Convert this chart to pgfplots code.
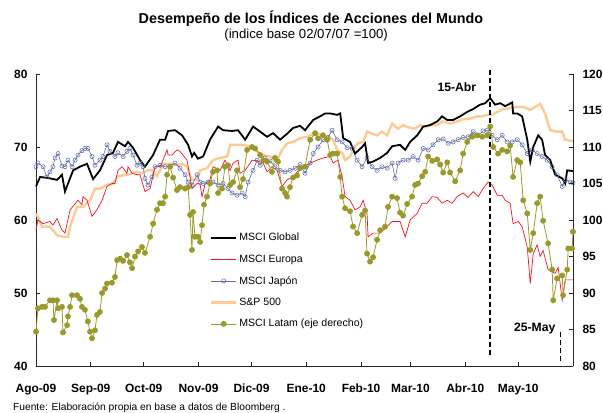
\documentclass[border=0pt]{standalone}
\usepackage{fontspec}
\setmainfont{Liberation Sans}
\usepackage{pgfplots}
\pgfplotsset{compat=1.18}
\definecolor{ceuropa}{HTML}{F5101E}
\definecolor{cjapon}{HTML}{5F6DAA}
\definecolor{csp}{HTML}{FCCB93}
\definecolor{clatam}{HTML}{9A9A2C}
\pgfplotsset{
  base/.style={
    scale only axis, width=537bp, height=292bp,
    xmin=0, xmax=304, clip=false,
    axis line style={-, line width=0.7pt, black!85},
    tick align=inside, major tick length=4bp,
    tick style={line width=0.6pt, black!85},
    tick label style={font=\bfseries\fontsize{12}{14}\selectfont},
    /pgf/number format/assume math mode=true,
  },
  sglobal/.style={black, line width=1.8pt},
  seuropa/.style={ceuropa, line width=0.7pt},
  sjapon/.style={cjapon, line width=0.6pt, mark=o, mark size=2.1bp, mark options={fill=white, line width=0.55pt}},
  ssp/.style={csp, line width=2.4pt},
  slatam/.style={clatam, line width=0.8pt, mark=*, mark size=2.5bp},
}

\begin{document}
\begin{tikzpicture}
\path[use as bounding box] (-36bp,-47bp) rectangle (567bp,366bp);

\begin{axis}[base,
  ymin=40, ymax=80, ytick={40,50,...,80},
  axis x line*=bottom, axis y line*=left,
  xtick={0,31,61,92,122,153,184,212,243,273,304},
  xticklabels={Ago-09,Sep-09,Oct-09,Nov-09,Dic-09,Ene-10,Feb-10,Mar-10,Abr-10,May-10,},
  x tick label style={yshift=-14.5bp},
  y tick label style={xshift=-5bp},
]
% S&P 500
\addplot[ssp] coordinates {
(0,60.9) (1.1,60.4) (3.4,59.1) (7.9,59.1) (9.6,58.6) (11.9,57.9) (15.3,57.7) (18.1,57.7)
(19.3,59.1) (23.2,61.8) (26.6,61.8) (30.6,62.7) (33.4,64.3) (36.2,64.3) (40.2,64.8) (43.6,65.0)
(46.4,66.0) (51.5,66.2) (54.4,66.4) (57.2,66.6) (60.0,66.4) (62.9,66.8) (65.7,66.8) (68.5,66.0)
(70.2,66.8) (71.9,67.7) (75.9,67.7) (79.8,67.5) (82.7,67.7) (85.5,67.3) (88.3,65.5) (91.2,65.5)
(92.9,66.8) (96.8,67.1) (100.2,68.2) (104.2,68.5) (108.2,68.7) (109.9,70.3) (113.8,70.3) (117.2,70.3)
(121.2,70.1) (125.2,69.4) (128.6,68.9) (132.5,68.7) (136.5,68.2) (139.3,69.6) (142.1,70.5) (145.5,70.7)
(149.5,71.2) (153.5,71.4) (156.9,71.8) (160.8,71.8) (164.8,71.4) (168.2,71.0) (170.5,69.6) (173.3,69.2)
(175.0,68.2) (177.8,68.7) (180.6,70.1) (182.3,70.5) (185.2,70.7) (187.4,72.1) (190.3,71.8) (193.1,71.6)
(195.9,72.1) (198.8,71.6) (201.6,73.2) (205.0,72.5) (207.8,73.0) (210.7,72.7) (214.6,72.5) (217.5,73.0)
(220.3,72.7) (223.1,73.0) (227.1,73.0) (230.5,73.5) (234.4,73.2) (238.4,73.5) (241.8,73.8) (245.8,73.9)
(249.7,74.2) (252.6,74.2) (255.4,74.4) (258.2,74.4) (261.1,74.8) (264.5,75.2) (268.4,75.3) (272.4,75.5)
(275.8,75.5) (279.8,75.1) (282.6,75.5) (285.4,75.9) (288.2,74.6) (291.1,72.3) (295.0,72.1) (297.9,72.1)
(299.6,71.0) (304,70.8)
};
% MSCI Japon
\addplot[sjapon] coordinates {
(0,67.3) (1.1,67.8) (4.0,67.3) (6.2,65.9) (7.9,66.6) (9.6,67.3) (10.8,68.5) (12.5,69.1)
(14.7,67.4) (16.4,67.3) (18.1,68.2) (20.4,67.3) (22.1,68.2) (23.8,68.9) (26.0,69.5) (27.7,69.8)
(29.4,69.8) (31.7,68.7) (33.4,67.5) (36.2,68.2) (37.9,68.7) (40.2,70.3) (41.9,69.4) (44.7,68.7)
(46.4,69.2) (49.3,68.7) (51.5,69.4) (53.2,69.8) (54.9,68.9) (57.2,67.5) (58.9,67.8) (60.6,67.3)
(61.7,65.7) (63.4,64.8) (65.7,65.9) (67.4,67.3) (70.2,67.5) (73.1,67.3) (75.9,67.3) (78.7,67.8)
(81.5,67.1) (84.4,66.2) (86.1,65.2) (88.3,64.8) (91.2,66.2) (92.9,65.2) (94.6,65.0) (97.4,65.2)
(100.2,65.2) (103.1,64.8) (105.9,65.0) (108.7,64.3) (111.0,63.7) (113.8,63.4) (116.7,63.7) (118.4,63.2)
(120.1,65.2) (122.9,66.8) (125.2,68.2) (126.9,67.5) (129.7,68.5) (132.5,68.1) (135.3,67.3) (138.2,66.8)
(141.0,66.6) (143.8,66.8) (146.7,67.1) (149.5,67.6) (152.3,66.4) (155.2,67.8) (156.9,69.1) (159.7,70.0)
(162.5,71.0) (165.4,71.3) (167.6,72.3) (170.5,71.0) (173.3,70.7) (176.1,69.9) (179.0,69.8) (181.8,68.2)
(184.6,67.3) (187.4,68.5) (190.3,67.3) (193.1,66.8) (195.9,67.3) (198.8,67.1) (201.6,67.8) (203.3,65.7)
(205.0,67.8) (207.8,68.2) (210.7,68.2) (213.5,68.7) (216.3,68.2) (219.2,69.8) (222.0,69.6) (224.8,70.3)
(227.7,71.0) (230.5,71.1) (233.3,70.5) (236.1,70.7) (239.0,71.0) (241.8,71.3) (244.6,71.4) (247.5,72.1)
(250.3,71.6) (253.1,72.2) (255.4,72.3) (258.2,71.6) (261.1,71.0) (263.9,71.6) (266.7,70.7) (269.6,70.7)
(272.4,71.0) (275.2,70.3) (278.1,69.1) (280.9,69.6) (283.7,69.1) (286.5,68.7) (289.4,68.2) (292.2,67.3)
(295.0,66.2) (297.9,64.6) (299.6,65.5) (302.4,65.2) (304,65.1)
};
% MSCI Europa
\addplot[seuropa] coordinates {
(0,58.6) (1.1,60.0) (4.0,59.5) (7.9,59.8) (9.6,59.3) (11.9,60.2) (14.7,58.6) (16.4,58.2)
(19.3,61.4) (23.8,62.7) (26.0,62.1) (26.6,63.2) (28.9,62.7) (31.7,60.5) (34.5,61.4) (37.4,62.7)
(40.2,64.6) (43.0,65.0) (44.7,65.0) (46.4,66.8) (48.7,67.3) (51.5,66.4) (52.1,67.3) (54.4,66.4)
(57.2,66.2) (58.9,66.2) (61.7,63.9) (64.6,64.3) (67.4,67.3) (70.2,67.3) (71.9,68.2) (74.2,69.6)
(74.8,68.9) (77.0,68.9) (79.8,69.6) (81.5,69.4) (85.5,68.2) (88.3,64.3) (91.2,65.0) (92.9,64.9)
(94.0,63.2) (95.7,64.9) (98.5,65.5) (100.2,67.3) (104.2,66.8) (107.0,68.2) (109.9,66.8) (111.6,67.8)
(114.4,68.2) (115.5,66.4) (118.4,66.8) (122.3,68.2) (125.2,68.1) (128.6,67.8) (130.8,66.6) (133.6,67.3)
(136.5,66.8) (139.3,64.6) (142.1,65.5) (145.5,65.9) (149.5,67.1) (155.2,67.8) (159.1,68.2) (162.5,68.5)
(166.5,68.7) (168.2,67.8) (171.0,68.2) (173.3,65.9) (175.0,63.2) (177.8,62.7) (180.6,61.4) (183.5,61.8)
(185.2,62.7) (187.4,60.9) (188.0,57.7) (190.8,58.2) (194.8,58.2) (198.8,59.1) (201.6,59.8) (206.1,59.8)
(209.0,57.7) (211.8,60.0) (215.8,60.9) (218.6,62.3) (221.4,62.3) (224.3,63.2) (227.1,63.1) (229.9,62.3)
(232.8,62.7) (235.6,62.3) (238.4,63.2) (241.8,63.7) (244.6,63.1) (247.5,63.9) (250.3,63.2) (253.1,64.3)
(256.0,65.2) (258.2,64.8) (261.1,63.4) (263.9,63.4) (265.6,62.7) (268.4,62.3) (270.1,59.5) (273.0,59.8)
(275.2,59.1) (278.1,56.3) (279.8,51.3) (281.5,55.4) (283.7,56.6) (285.4,55.0) (287.1,55.8) (289.9,53.2)
(293.9,52.7) (295.6,53.5) (297.9,49.0) (299.6,51.8) (301.3,51.8) (304,51.8)
};
% MSCI Global
\addplot[sglobal] coordinates {
(0,64.6) (2.3,65.9) (7.9,65.7) (11.9,65.5) (14.7,66.2) (16.4,63.9) (21.0,66.8) (24.9,67.3)
(28.9,67.7) (32.3,65.6) (36.2,66.8) (40.2,68.9) (43.6,69.2) (46.4,70.7) (50.4,70.1) (52.1,70.7)
(54.9,69.9) (58.9,68.2) (61.7,67.3) (66.3,68.9) (70.2,71.0) (73.1,71.0) (74.8,72.2) (78.7,72.3)
(82.7,71.6) (86.1,70.3) (88.3,68.7) (89.5,69.2) (91.7,68.4) (94.6,68.7) (98.5,71.0) (103.1,72.8)
(105.9,72.3) (111.0,72.2) (114.4,72.3) (118.4,71.0) (122.9,72.8) (126.9,72.1) (130.8,71.4) (134.2,71.9)
(138.2,71.0) (142.1,71.8) (145.5,72.6) (149.5,72.9) (152.3,72.3) (156.9,73.7) (160.8,74.2) (163.7,74.6)
(166.5,74.6) (170.5,74.4) (172.2,74.6) (173.9,71.2) (177.8,70.7) (180.6,69.1) (184.6,70.0) (186.3,70.5)
(188.0,67.8) (190.8,68.0) (194.8,68.5) (198.8,69.2) (201.6,70.1) (206.1,70.3) (209.0,69.6) (211.8,70.7)
(215.8,71.6) (219.2,72.8) (223.1,73.0) (227.1,73.5) (229.9,74.2) (232.8,73.7) (236.1,73.7) (240.1,74.2)
(244.1,74.8) (247.5,75.2) (251.4,75.8) (254.3,76.0) (257.1,76.7) (259.9,75.8) (262.8,76.0) (265.6,75.6)
(269.6,76.1) (270.1,74.6) (272.4,74.6) (275.2,74.2) (278.1,71.0) (279.8,68.0) (281.5,70.0) (284.3,71.6)
(286.5,71.0) (288.2,68.9) (291.1,68.2) (293.9,66.2) (297.9,65.7) (299.6,65.0) (300.7,66.8) (304,66.7)
};
% event markers
\draw[black, line width=1.2pt, dash pattern=on 5bp off 3bp] (axis cs:257,80.6) -- (axis cs:257,41.2);
\draw[black, line width=1.2pt, dash pattern=on 5bp off 3bp] (axis cs:297,44.6) -- (axis cs:297,40.7);
\node[font=\bfseries\fontsize{12.2}{14}\selectfont] at (axis cs:238.2,78.2) {15-Abr};
\node[font=\bfseries\fontsize{12.2}{14}\selectfont] at (axis cs:282.3,45.2) {25-May};
% titles and source
\node[font=\bfseries\fontsize{14.4}{17}\selectfont] at (rel axis cs:0.512,1.189) {Desempeño de los Índices de Acciones del Mundo};
\node[font=\fontsize{13.2}{15}\selectfont] at (rel axis cs:0.503,1.134) {(indice base 02/07/07 =100)};
\node[font=\fontsize{10.3}{12}\selectfont, anchor=west, inner sep=0pt] at (rel axis cs:-0.043,-0.144) {Fuente: Elaboración propia en base a datos de Bloomberg .};
\end{axis}

\begin{axis}[base,
  ymin=80, ymax=120, ytick={80,85,...,120},
  axis y line*=right, axis x line=none,
  y tick label style={xshift=6bp},
  legend cell align=left,
  legend style={draw=none, fill=none, at={(0.318,0.469)}, anchor=north west,
    font=\fontsize{10.6}{12.5}\selectfont, row sep=8.5bp},
  legend image code/.code={\draw[mark repeat=2,mark phase=2,#1] plot coordinates {(0bp,0bp) (12.5bp,0bp) (25bp,0bp)};},
]
\addlegendimage{sglobal}
\addlegendentry{MSCI Global}
\addlegendimage{seuropa}
\addlegendentry{MSCI Europa}
\addlegendimage{sjapon}
\addlegendentry{MSCI Japón}
\addlegendimage{ssp}
\addlegendentry{S\&P 500}
% MSCI Latam (right axis)
\addplot[slatam] coordinates {
(0,84.7) (1.1,87.9) (3.4,88.1) (5.1,88.1) (7.9,89.0) (9.6,89.0) (10.2,86.3) (11.9,89.0)
(12.5,87.9) (14.7,88.1) (15.3,84.6) (17.6,85.6) (18.1,86.8) (19.3,88.1) (20.4,89.7) (23.2,89.7)
(24.9,89.2) (26.0,88.1) (27.7,87.7) (29.4,86.1) (30.6,84.7) (31.7,83.8) (33.4,84.9) (34.5,87.0)
(36.2,87.4) (37.4,90.0) (39.1,90.6) (40.2,91.3) (43.0,91.4) (44.7,92.2) (45.9,94.5) (47.6,94.7)
(49.3,94.4) (51.5,95.2) (53.2,94.2) (54.4,93.4) (56.1,95.0) (57.8,95.7) (60.0,96.3) (61.7,95.5)
(64.6,97.7) (66.3,99.5) (68.5,101.4) (70.2,102.3) (71.9,102.3) (73.1,103.2) (74.2,106.2) (75.9,107.3)
(77.6,105.8) (79.8,104.1) (81.5,104.5) (84.4,104.3) (86.1,104.5) (87.2,100.7) (88.3,95.9) (88.9,101.1)
(90.0,97.7) (91.7,97.7) (92.9,97.0) (94.0,99.3) (95.1,102.1) (96.8,103.2) (98.5,105.0) (100.2,106.6)
(102.5,106.8) (103.1,103.7) (105.3,104.3) (107.0,107.3) (108.7,107.5) (109.9,104.8) (111.6,105.2) (113.8,106.8)
(115.5,104.5) (117.2,105.6) (119.5,109.6) (122.3,110.0) (124.0,109.8) (126.9,108.9) (128.6,108.2) (130.8,108.0)
(133.6,106.6) (135.3,108.5) (137.0,108.0) (139.3,104.3) (141.0,103.7) (142.1,103.2) (143.8,104.5) (145.5,105.8)
(147.8,106.1) (149.5,107.1) (152.3,107.3) (155.2,111.0) (158.0,111.9) (159.7,111.2) (162.5,111.6) (164.8,111.0)
(166.5,108.9) (168.2,109.1) (170.5,109.1) (172.2,105.9) (173.3,103.2) (175.0,101.6) (177.8,101.2) (179.5,99.1)
(181.8,98.2) (184.6,100.7) (186.3,101.3) (187.4,95.4) (189.1,94.3) (190.8,94.9) (193.1,97.3) (194.8,98.6)
(197.6,99.1) (199.3,101.8) (201.6,103.2) (204.4,103.0) (206.1,101.0) (207.8,100.6) (210.1,102.2) (212.9,103.2)
(214.6,104.8) (216.3,105.0) (218.6,106.0) (220.3,106.6) (222.0,108.7) (224.3,108.1) (227.1,108.3) (228.8,107.6)
(230.5,106.5) (232.8,107.9) (234.4,106.5) (237.3,105.3) (240.1,106.8) (241.8,109.1) (244.1,110.7) (246.9,111.4)
(249.7,111.6) (252.6,111.4) (255.4,111.6) (257.1,112.8) (258.8,110.0) (261.6,109.1) (263.9,109.6) (266.7,109.4)
(268.4,110.2) (270.1,105.9) (272.4,108.2) (274.1,107.9) (275.8,102.7) (278.1,100.9) (279.8,95.9) (281.5,98.2)
(283.7,102.3) (285.4,103.2) (287.1,99.9) (289.9,96.8) (292.2,93.2) (292.8,89.0) (295.0,92.0) (297.9,92.4)
(298.4,89.7) (300.7,93.2) (301.3,96.1) (303.5,96.1) (304,98.4)
};
\addlegendentry{MSCI Latam (eje derecho)}
\end{axis}
\end{tikzpicture}
\end{document}
